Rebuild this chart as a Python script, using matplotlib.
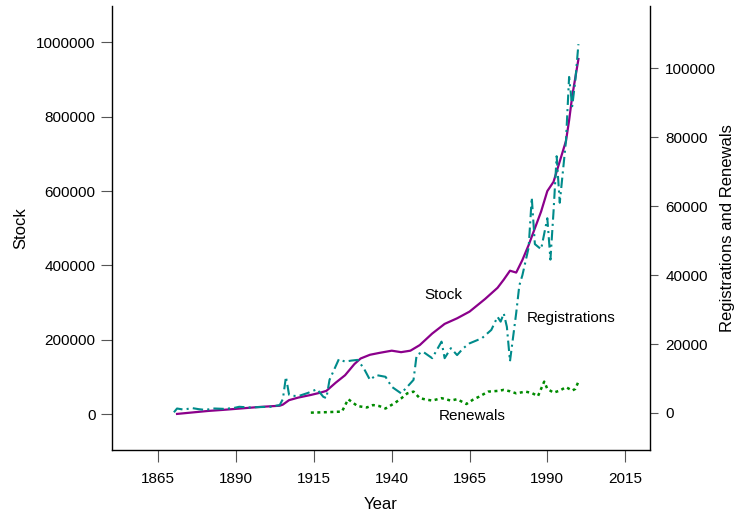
import matplotlib
matplotlib.use("Agg")
import matplotlib.pyplot as plt

plt.rcParams['font.family'] = ['Liberation Sans', 'DejaVu Sans']

# ---- data ----
stock_years = [1871, 1876, 1881, 1886, 1892, 1898, 1904, 1905, 1907, 1910, 1914, 1917, 1919,
               1922, 1925, 1928, 1930, 1933, 1936, 1940, 1943, 1946, 1949, 1953, 1957,
               1961, 1965, 1970, 1974, 1976, 1978, 1980, 1982, 1984, 1986, 1988, 1990,
               1992, 1994, 1996, 1997, 1998, 2000]
stock = [1000, 5000, 9000, 12000, 16000, 20000, 23000, 26000, 38000, 45000, 52000, 58000, 63000,
         85000, 105000, 135000, 150000, 160000, 165000, 171000, 167000, 171000, 186000, 217000, 243000,
         258000, 276000, 310000, 340000, 362000, 386000, 381000, 415000, 455000, 500000, 545000, 600000,
         625000, 680000, 735000, 790000, 855000, 955000]

reg_years = [1870, 1871, 1873, 1876, 1878, 1880, 1883, 1886, 1889, 1891, 1894, 1897, 1901,
             1904, 1905, 1906, 1907, 1908, 1910, 1913, 1916, 1918, 1919, 1920, 1923, 1925,
             1927, 1929, 1931, 1933, 1935, 1938, 1940, 1943, 1945, 1947, 1948, 1950, 1953,
             1956, 1957, 1959, 1961, 1963, 1965, 1969, 1972, 1974, 1975, 1976, 1977, 1978,
             1979, 1980, 1981, 1982, 1984, 1985, 1986, 1988, 1990, 1991, 1992, 1993, 1994,
             1996, 1997, 1998, 1999, 2000]
registrations = [200, 1300, 1000, 1400, 1100, 900, 1300, 1200, 1400, 1800, 1600, 1700, 1800,
                 2300, 4000, 10500, 5300, 5000, 4900, 5800, 6900, 4700, 4300, 9600, 15600, 14900,
                 15200, 15400, 13000, 9600, 11000, 10500, 7600, 5700, 7600, 9600, 16800, 17800, 15900,
                 20700, 15900, 18800, 16800, 18800, 20200, 21700, 24100, 27900, 26500, 28900, 25000, 15000,
                 22000, 29000, 37000, 40000, 48000, 62500, 49000, 47500, 56500, 44500, 58500, 74500, 61000,
                 79000, 97500, 89000, 96500, 107000]

ren_years = [1914, 1918, 1921, 1924, 1926, 1929, 1932, 1934, 1936, 1938, 1941, 1943, 1945,
             1947, 1949, 1951, 1953, 1956, 1959, 1961, 1964, 1966, 1968, 1971, 1974, 1976,
             1978, 1980, 1983, 1985, 1987, 1989, 1990, 1992, 1994, 1996, 1998, 1999, 2000]
renewals = [100, 200, 300, 400, 4000, 2000, 1600, 2300, 2000, 1300, 2900, 4200, 5700,
            6200, 4300, 3900, 3600, 4300, 3600, 4000, 2600, 3800, 4700, 6200, 6400, 6700,
            6300, 5700, 6200, 5800, 4900, 9100, 7000, 5900, 6500, 7500, 6500, 7000, 9100]

x_ticks = [1865, 1890, 1915, 1940, 1965, 1990, 2015]
left_ticks = [0, 200000, 400000, 600000, 800000, 1000000]
right_ticks = [0, 20000, 40000, 60000, 80000, 100000]

# ---- figure ----
fig = plt.figure(figsize=(7.39, 5.22), dpi=100)
ax = fig.add_axes([111.7 / 739, (522 - 450) / 522, (650 - 111.7) / 739, (450 - 6) / 522])
ax2 = ax.twinx()

ax.plot(stock_years, stock, color='#8B008B', lw=1.6, zorder=3)
ax2.plot(reg_years, registrations, color='#008B8B', lw=1.5,
         linestyle=(0, (5, 2, 1, 2)))
ax2.plot(ren_years, renewals, color='#008B00', lw=1.8,
         linestyle=(0, (1.2, 1.4)))

ax.set_xlim(1850, 2023)
ax.set_ylim(-96000, 1097600)
ax2.set_ylim(-10740, 118080)

ax.set_xticks(x_ticks)
ax.set_xticklabels([str(v) for v in x_ticks])
ax.set_yticks(left_ticks)
ax.set_yticklabels([str(v) for v in left_ticks])
ax2.set_yticks(right_ticks)
ax2.set_yticklabels([str(v) for v in right_ticks])

for a in (ax, ax2):
    a.spines['top'].set_visible(False)
    for s in a.spines.values():
        s.set_linewidth(1.0)
ax.spines['right'].set_visible(False)
ax2.spines['left'].set_visible(False)
ax2.spines['bottom'].set_visible(False)

ax.tick_params(axis='y', length=8, width=0.8, color='#555555', pad=3.5, labelsize=11)
ax.tick_params(axis='x', length=8.5, width=0.8, color='#555555', pad=7, labelsize=11)
ax2.tick_params(axis='y', length=5.5, width=0.8, color='#555555', pad=5.5, labelsize=11)

ax.set_xlabel('Year', fontsize=12, labelpad=8)
ax.set_ylabel('Stock', fontsize=12, labelpad=6)
ax2.set_ylabel('Registrations and Renewals', fontsize=12, labelpad=3)

ax.text(1956.5, 320700, 'Stock', fontsize=11, ha='center', va='center')
ax.text(1997.8, 258900, 'Registrations', fontsize=11, ha='center', va='center')
ax.text(1965.8, -4600, 'Renewals', fontsize=11, ha='center', va='center')

fig.savefig('out.png', dpi=100)
